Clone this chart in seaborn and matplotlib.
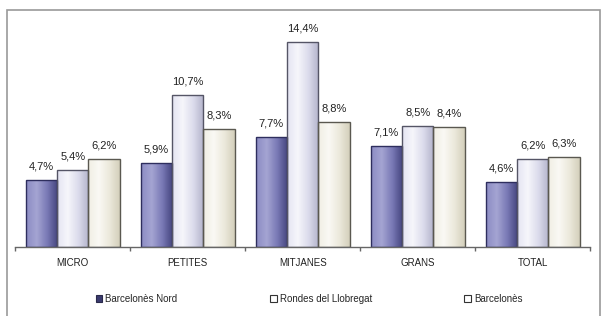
import numpy as np
import pandas as pd
import matplotlib
matplotlib.use("Agg")
import matplotlib.pyplot as plt
import seaborn as sns
from matplotlib.patches import Rectangle, Patch
from matplotlib.colors import LinearSegmentedColormap

categories = ["MICRO", "PETITES", "MITJANES", "GRANS", "TOTAL"]
series = ["Barcelonès Nord", "Rondes del Llobregat", "Barcelonès"]
barcelones_nord = [4.7, 5.9, 7.7, 7.1, 4.6]
rondes_llobregat = [5.4, 10.7, 14.4, 8.5, 6.2]
barcelones = [6.2, 8.3, 8.8, 8.4, 6.3]

colors = ["#5c5c9e", "#dcdcee", "#eeeadb"]
gradients = [
    ["#8c8cc4", "#a4a4d2", "#7a7ab6", "#44447e"],
    ["#e4e4f2", "#f6f6fb", "#dcdcec", "#b4b4cc"],
    ["#f0eee4", "#faf9f4", "#ece9dc", "#d4d0bc"],
]
edge_colors = ["#2e2e5e", "#555566", "#5a5850"]

rows = []
for s, vals in zip(series, [barcelones_nord, rondes_llobregat, barcelones]):
    for c, v in zip(categories, vals):
        rows.append({"cat": c, "series": s, "val": v})
df = pd.DataFrame(rows)

sns.set_theme(style="white")
plt.rcParams["font.family"] = ["Liberation Sans", "DejaVu Sans"]

fig = plt.figure(figsize=(6.06, 3.16), dpi=100)
ax = fig.add_axes([0.025, 0.218, 0.949, 0.722])

sns.barplot(data=df, x="cat", y="val", hue="series", order=categories,
            hue_order=series, palette=colors, width=0.82, edgecolor="#3a3a3a",
            linewidth=1.0, saturation=1, ax=ax, legend=False)

ax.set_ylim(0, 16)
ax.set_xlim(-0.5, len(categories) - 0.5)

# gradient fill for each bar
for i, cont in enumerate(ax.containers):
    cmap = LinearSegmentedColormap.from_list(f"g{i}", gradients[i])
    grad = np.linspace(0, 1, 64).reshape(1, -1)
    for bar in cont.patches:
        x0, y0 = bar.get_x(), bar.get_y()
        w, h = bar.get_width(), bar.get_height()
        im = ax.imshow(grad, cmap=cmap, aspect="auto", extent=(x0, x0 + w, y0, y0 + h),
                       zorder=bar.get_zorder() - 0.01, interpolation="bilinear")
        im.set_clip_path(bar)
        bar.set_facecolor("none")
        bar.set_edgecolor(edge_colors[i])

ax.set_ylim(0, 16)
ax.set_xlim(-0.5, len(categories) - 0.5)
ax.set_xlabel("")
ax.set_ylabel("")
ax.set_yticks([])
for sp in ["top", "left", "right"]:
    ax.spines[sp].set_visible(False)
ax.spines["bottom"].set_color("#666666")
ax.spines["bottom"].set_linewidth(1.0)
ax.set_xticks(range(len(categories)))
ax.set_xticklabels(categories)
ax.tick_params(axis="x", which="major", length=0, pad=8, labelsize=7, colors="#222222")
ax.set_xticks(np.arange(-0.5, len(categories), 1.0), minor=True)
ax.tick_params(axis="x", which="minor", length=3, direction="out", color="#666666", width=1, bottom=True)

for cont in ax.containers:
    labels = [f"{v:.1f}%".replace(".", ",") for v in cont.datavalues]
    ax.bar_label(cont, labels=labels, padding=6, fontsize=8, color="#222222")

handles = [
    Patch(facecolor="#3a3a6e", edgecolor="#2a2a4a", linewidth=0.8),
    Patch(facecolor="#ffffff", edgecolor="#333333", linewidth=0.8),
    Patch(facecolor="#ffffff", edgecolor="#333333", linewidth=0.8),
]
fig.legend(handles, series, loc="center", bbox_to_anchor=(0.51, 0.055), ncol=3,
           frameon=False, fontsize=7, handlelength=0.7, handleheight=0.7,
           handletextpad=0.3, columnspacing=9.5)

fig.patches.append(Rectangle((7 / 606, -0.01), 593 / 606, 1 - 10 / 316 + 0.01,
                             transform=fig.transFigure, fill=False,
                             edgecolor="#9a9a9a", linewidth=1.2))

fig.savefig("out.png", dpi=100)
